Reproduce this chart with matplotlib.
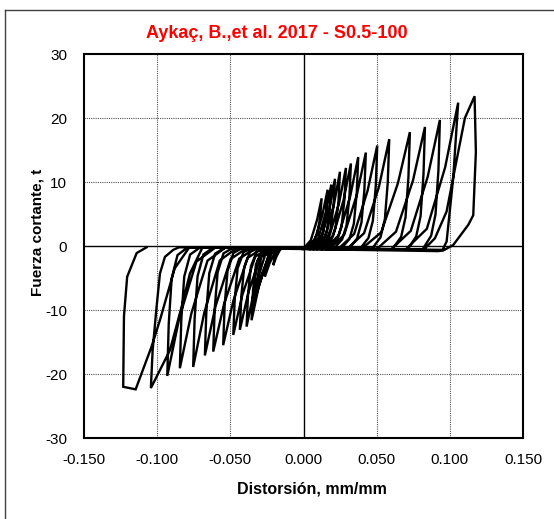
import numpy as np
import matplotlib
matplotlib.use("Agg")
import matplotlib.pyplot as plt
from matplotlib.lines import Line2D

plt.rcParams['font.family'] = ['Liberation Sans', 'DejaVu Sans']

# ====== datos (ciclos de histeresis) ======
# cada ciclo: carga positiva -> descarga -> carga negativa -> descarga
ciclo_x = [
    [0.000, 0.0050, 0.0093, 0.0124, 0.0114, 0.0094, 0.0064, 0.0004,
     -0.012, -0.0155, -0.0185, -0.0207, -0.0197, -0.0177, -0.0137, -0.0087],
    [0.002, 0.0078, 0.0129, 0.0165, 0.0155, 0.0135, 0.0105, 0.0045,
     -0.013, -0.0184, -0.0231, -0.0264, -0.0254, -0.0234, -0.0194, -0.0134],
    [0.004, 0.0100, 0.0153, 0.0190, 0.0180, 0.0160, 0.0130, 0.0070,
     -0.014, -0.0212, -0.0275, -0.0320, -0.0310, -0.0290, -0.0250, -0.0190],
    [0.006, 0.0122, 0.0176, 0.0215, 0.0205, 0.0185, 0.0155, 0.0095,
     -0.015, -0.0228, -0.0296, -0.0344, -0.0334, -0.0314, -0.0274, -0.0214],
    [0.008, 0.0148, 0.0207, 0.0249, 0.0239, 0.0219, 0.0189, 0.0129,
     -0.016, -0.0238, -0.0306, -0.0355, -0.0345, -0.0325, -0.0285, -0.0225],
    [0.010, 0.0176, 0.0243, 0.0290, 0.0280, 0.0260, 0.0230, 0.0170,
     -0.018, -0.0264, -0.0337, -0.0389, -0.0379, -0.0359, -0.0319, -0.0249],
    [0.012, 0.0202, 0.0273, 0.0324, 0.0314, 0.0294, 0.0264, 0.0204,
     -0.020, -0.0294, -0.0376, -0.0435, -0.0425, -0.0405, -0.0365, -0.0295],
    [0.015, 0.0240, 0.0318, 0.0374, 0.0364, 0.0344, 0.0314, 0.0254,
     -0.023, -0.0330, -0.0418, -0.0480, -0.0470, -0.0450, -0.0410, -0.0340],
    [0.018, 0.0278, 0.0365, 0.0426, 0.0416, 0.0396, 0.0366, 0.0306,
     -0.027, -0.0382, -0.0479, -0.0549, -0.0539, -0.0519, -0.0479, -0.0409],
    [0.024, 0.0346, 0.0438, 0.0504, 0.0494, 0.0474, 0.0444, 0.0384,
     -0.032, -0.0439, -0.0543, -0.0617, -0.0607, -0.0587, -0.0547, -0.0477],
    [0.030, 0.0414, 0.0515, 0.0586, 0.0576, 0.0556, 0.0526, 0.0466,
     -0.038, -0.0498, -0.0601, -0.0674, -0.0664, -0.0644, -0.0604, -0.0534],
    [0.040, 0.0531, 0.0645, 0.0727, 0.0717, 0.0697, 0.0667, 0.0607,
     -0.045, -0.0572, -0.0678, -0.0754, -0.0744, -0.0724, -0.0684, -0.0614],
    [0.050, 0.0632, 0.0748, 0.0830, 0.0820, 0.0800, 0.0770, 0.0710,
     -0.053, -0.0656, -0.0766, -0.0845, -0.0835, -0.0815, -0.0775, -0.0705],
    [0.060, 0.0733, 0.0849, 0.0932, 0.0922, 0.0902, 0.0872, 0.0812,
     -0.060, -0.0732, -0.0848, -0.0931, -0.0921, -0.0901, -0.0861, -0.0791],
    [0.070, 0.0843, 0.0968, 0.1057, 0.1023, 0.0978, 0.0950,
     -0.069, -0.0776, -0.0833, -0.0913, -0.1043, -0.1031, -0.1004, -0.0981, -0.0947, -0.0890, -0.0850],
    [0.082, 0.0898, 0.0978, 0.1035, 0.1103, 0.1169, 0.1178, 0.1160, 0.1126, 0.1023, 0.0978, 0.0955, 0.0920,
     -0.078, -0.0880, -0.0980, -0.1038, -0.1147, -0.1232, -0.1227, -0.1205, -0.1140, -0.1072],
]
ciclo_y = [
    [-0.4, 0.90, 4.10, 7.45, 4.47, 1.86, 0.60, -0.5,
     -0.2, -0.36, -1.65, -3.0, -1.80, -0.75, -0.30, -0.2],
    [-0.4, 1.06, 4.84, 8.8, 5.28, 2.20, 0.70, -0.5,
     -0.2, -0.58, -2.64, -4.8, -2.88, -1.20, -0.34, -0.2],
    [-0.4, 1.15, 5.28, 9.6, 5.76, 2.40, 0.77, -0.5,
     -0.2, -0.89, -4.07, -7.4, -4.44, -1.85, -0.52, -0.2],
    [-0.4, 1.26, 5.78, 10.5, 6.30, 2.63, 0.84, -0.5,
     -0.2, -1.10, -5.06, -9.2, -5.52, -2.30, -0.64, -0.2],
    [-0.4, 1.39, 6.38, 11.6, 6.96, 2.90, 0.93, -0.5,
     -0.2, -1.39, -6.38, -11.6, -6.96, -2.90, -0.81, -0.2],
    [-0.4, 1.46, 6.71, 12.2, 7.32, 3.05, 0.98, -0.5,
     -0.2, -1.51, -6.93, -12.6, -7.56, -3.15, -0.88, -0.2],
    [-0.4, 1.55, 7.10, 12.9, 7.74, 3.23, 1.03, -0.5,
     -0.2, -1.57, -7.20, -13.1, -7.86, -3.28, -0.92, -0.2],
    [-0.4, 1.67, 7.65, 13.9, 8.34, 3.48, 1.11, -0.5,
     -0.2, -1.67, -7.65, -13.9, -8.34, -3.48, -0.97, -0.2],
    [-0.4, 1.75, 8.03, 14.6, 8.76, 3.65, 1.17, -0.5,
     -0.2, -1.86, -8.53, -15.5, -9.30, -3.88, -1.09, -0.2],
    [-0.4, 1.88, 8.64, 15.7, 9.42, 3.93, 1.26, -0.5,
     -0.2, -1.98, -9.08, -16.5, -9.90, -4.13, -1.16, -0.2],
    [-0.4, 2.00, 9.19, 16.7, 10.0, 4.18, 1.34, -0.5,
     -0.2, -2.05, -9.40, -17.1, -10.26, -4.28, -1.20, -0.2],
    [-0.4, 2.14, 9.79, 17.8, 10.7, 4.45, 1.42, -0.5,
     -0.2, -2.27, -10.4, -18.9, -11.34, -4.73, -1.32, -0.2],
    [-0.5, 2.23, 10.23, 18.6, 11.2, 4.65, 1.49, -0.6,
     -0.2, -2.29, -10.5, -19.1, -11.46, -4.78, -1.34, -0.2],
    [-0.5, 2.36, 10.84, 19.7, 11.8, 4.93, 1.58, -0.6,
     -0.2, -2.44, -11.17, -20.3, -12.18, -5.08, -1.42, -0.2],
    [-0.5, 2.69, 12.3, 22.4, 10.6, 0.7, -0.6,
     -0.2, -4.3, -9.5, -16.3, -22.2, -16.3, -9.5, -4.3, -1.7, -0.6, -0.2],
    [-0.6, 1.2, 5.4, 12.1, 20.0, 23.4, 14.7, 4.8, 3.3, 0.15, -0.4, -0.7, -0.8,
     -0.2, -3.5, -11.5, -15.7, -22.4, -22.0, -11.0, -4.8, -1.1, -0.2],
]

x_ticks = [-0.150, -0.100, -0.050, 0.000, 0.050, 0.100, 0.150]
y_ticks = [-30, -20, -10, 0, 10, 20, 30]

W, H = 554, 519
fig = plt.figure(figsize=(W / 100, H / 100), dpi=100)
ax = fig.add_axes([84 / W, 1 - 438 / H, (523 - 84) / W, (438 - 54) / H])

# rejilla punteada + ejes en cero
for xv in x_ticks[1:-1]:
    if xv == 0:
        ax.axvline(xv, color='black', lw=1.0, zorder=1)
    else:
        ax.axvline(xv, color='#505050', lw=0.8, ls=(0, (1, 1)), zorder=1)
for yv in y_ticks[1:-1]:
    if yv == 0:
        ax.axhline(yv, color='black', lw=1.0, zorder=1)
    else:
        ax.axhline(yv, color='#505050', lw=0.8, ls=(0, (1, 1)), zorder=1)

xs = np.concatenate([np.array(c) for c in ciclo_x])
ys = np.concatenate([np.array(c) for c in ciclo_y])
ax.plot(xs, ys, color='black', lw=1.7, solid_joinstyle='miter', zorder=3)

ax.set_xlim(-0.15, 0.15)
ax.set_ylim(-30, 30)
ax.set_xticks(x_ticks)
ax.set_yticks(y_ticks)
ax.set_xticklabels([f"{v:.3f}" for v in x_ticks])
ax.set_yticklabels([str(v) for v in y_ticks])
ax.tick_params(length=0, labelsize=11, colors='black')
ax.tick_params(axis='x', pad=11)
ax.tick_params(axis='y', pad=12)
for s in ax.spines.values():
    s.set_linewidth(1.5)
    s.set_color('black')

fig.text(277 / W, 1 - 33 / H, "Aykaç, B.,et al. 2017 - S0.5-100", color='red',
         fontsize=13, fontweight='bold', ha='center', va='center')
fig.text(312 / W, 1 - 489 / H, "Distorsión, mm/mm", fontsize=11.5,
         fontweight='bold', ha='center', va='center')
fig.text(37 / W, 1 - 232 / H, "Fuerza cortante, t", fontsize=11,
         fontweight='bold', ha='center', va='center', rotation=90)

# marco exterior
fig.add_artist(Line2D([5 / W, 5 / W], [0, 1 - 10 / H], color='#404040', lw=1.0))
fig.add_artist(Line2D([5 / W, 553 / W], [1 - 10 / H, 1 - 10 / H], color='#404040', lw=1.0))

fig.savefig("out.png", dpi=100)
